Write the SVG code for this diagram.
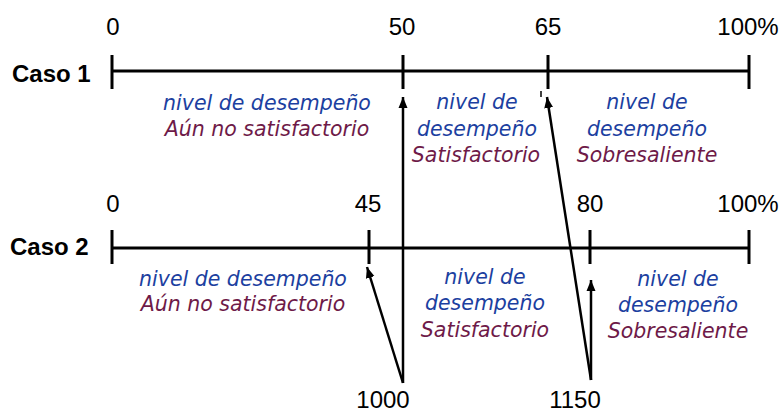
<svg xmlns="http://www.w3.org/2000/svg" width="784" height="412" viewBox="0 0 784 412">
<style>
.axis{stroke:#000;stroke-width:3;fill:none}
.tick{stroke:#000;stroke-width:3;fill:none}
.num{font-family:"Liberation Sans",Arial,sans-serif;font-size:24px;fill:#000;text-anchor:middle}
.caso{font-family:"Liberation Sans",Arial,sans-serif;font-size:24px;font-weight:bold;fill:#000}
.lvl{font-family:"DejaVu Sans",Verdana,sans-serif;font-style:italic;font-size:20.5px;text-anchor:middle}
.b{fill:#1c3fa0}
.p{fill:#6e1a48}
.arr{stroke:#000;stroke-width:2.5;fill:none;marker-end:url(#ah)}
</style>
<defs>
<marker id="ah" markerUnits="userSpaceOnUse" markerWidth="12" markerHeight="10" refX="11" refY="5" orient="auto">
<path d="M0,0.5 L11,5 L0,9.5 z" fill="#000"/>
</marker>
</defs>
<g id="caso1">
<text class="caso" x="12" y="82">Caso 1</text>
<line class="axis" x1="112" y1="71" x2="749" y2="71"/>
<line class="tick" x1="112" y1="55" x2="112" y2="89"/>
<line class="tick" x1="403" y1="55" x2="403" y2="89"/>
<line class="tick" x1="548" y1="55" x2="548" y2="89"/>
<line class="tick" x1="749" y1="55" x2="749" y2="89"/>
<text class="num" x="113" y="35">0</text>
<text class="num" x="402" y="35">50</text>
<text class="num" x="548" y="35">65</text>
<text class="num" x="748" y="35">100%</text>
<line x1="541" y1="91" x2="541" y2="97" stroke="#000" stroke-width="1.5"/>
</g>
<g id="c1-low">
<text class="lvl b" x="267" y="110">nivel de desempeño</text>
<text class="lvl p" x="267" y="136">Aún no satisfactorio</text>
</g>
<g id="c1-mid">
<text class="lvl b" x="477" y="109">nivel de</text>
<text class="lvl b" x="477" y="136">desempeño</text>
<text class="lvl p" x="476" y="162">Satisfactorio</text>
</g>
<g id="c1-high">
<text class="lvl b" x="647" y="109">nivel de</text>
<text class="lvl b" x="647" y="136">desempeño</text>
<text class="lvl p" x="647" y="162">Sobresaliente</text>
</g>
<g id="caso2">
<text class="caso" x="10" y="255">Caso 2</text>
<line class="axis" x1="112" y1="248" x2="749" y2="248"/>
<line class="tick" x1="112" y1="230" x2="112" y2="264"/>
<line class="tick" x1="369" y1="230" x2="369" y2="264"/>
<line class="tick" x1="590" y1="230" x2="590" y2="264"/>
<line class="tick" x1="749" y1="230" x2="749" y2="264"/>
<text class="num" x="113" y="212">0</text>
<text class="num" x="368" y="212">45</text>
<text class="num" x="590" y="212">80</text>
<text class="num" x="748" y="212">100%</text>
</g>
<g id="c2-low">
<text class="lvl b" x="243" y="286">nivel de desempeño</text>
<text class="lvl p" x="243" y="311">Aún no satisfactorio</text>
</g>
<g id="c2-mid">
<text class="lvl b" x="485" y="284">nivel de</text>
<text class="lvl b" x="485" y="310">desempeño</text>
<text class="lvl p" x="485" y="337">Satisfactorio</text>
</g>
<g id="c2-high">
<text class="lvl b" x="678" y="286">nivel de</text>
<text class="lvl b" x="678" y="312">desempeño</text>
<text class="lvl p" x="678" y="338">Sobresaliente</text>
</g>
<g id="v1000">
<text class="num" x="383" y="408">1000</text>
</g>
<g id="v1150">
<text class="num" x="575" y="408">1150</text>
</g>
<g id="connectors">
<line class="arr" x1="403" y1="383" x2="403" y2="97"/>
<line class="arr" x1="403" y1="383" x2="367" y2="267"/>
<line class="arr" x1="591" y1="380" x2="547" y2="97"/>
<line class="arr" x1="591" y1="380" x2="591" y2="280"/>
</g>
</svg>
